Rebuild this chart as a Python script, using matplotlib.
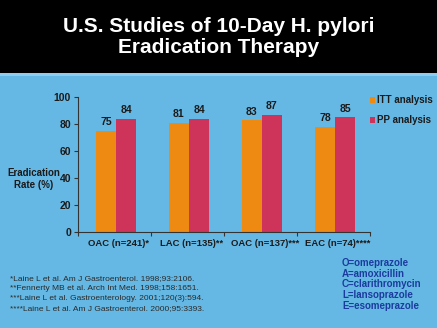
import matplotlib
matplotlib.use("Agg")
import matplotlib.pyplot as plt
from matplotlib.patches import Rectangle
import numpy as np

categories = ["OAC (n=241)*", "LAC (n=135)**", "OAC (n=137)***", "EAC (n=74)****"]
itt = [75, 81, 83, 78]
pp = [84, 84, 87, 85]
series_names = ["ITT analysis", "PP analysis"]
yticks = [0, 20, 40, 60, 80, 100]
title = "U.S. Studies of 10-Day H. pylori\nEradication Therapy"
ylabel = "Eradication\nRate (%)"
footnotes = ["*Laine L et al. Am J Gastroenterol. 1998;93:2106.",
             "**Fennerty MB et al. Arch Int Med. 1998;158:1651.",
             "***Laine L et al. Gastroenterology. 2001;120(3):594.",
             "****Laine L et al. Am J Gastroenterol. 2000;95:3393."]
abbrevs = ["O=omeprazole", "A=amoxicillin", "C=clarithromycin",
           "L=lansoprazole", "E=esomeprazole"]

plt.rcParams['font.family'] = ['Liberation Sans', 'DejaVu Sans']

W, H = 437, 328
fig = plt.figure(figsize=(W / 100, H / 100), dpi=100)
bg = "#66B8E4"
fig.patch.set_facecolor(bg)

# header
fig.add_artist(Rectangle((0, 1 - 73 / H), 1, 73 / H, transform=fig.transFigure,
                         facecolor="black", edgecolor="none", zorder=0))
fig.add_artist(Rectangle((0, 1 - 76 / H), 1, 3 / H, transform=fig.transFigure,
                         facecolor="#8FCDF0", edgecolor="none", zorder=0))
fig.text(0.5, 1 - 37 / H, title, color="white", fontsize=15, fontweight="bold",
         ha="center", va="center", linespacing=1.1)

ax = fig.add_axes([78 / W, 1 - 232 / H, 292 / W, 135 / H])
ax.set_facecolor("none")
orange = "#EE8A12"
pink = "#CE3459"
x = np.arange(len(categories)) + 0.52
w = 0.275
b1 = ax.bar(x - w / 2, itt, w, color=orange, label=series_names[0])
b2 = ax.bar(x + w / 2, pp, w, color=pink, label=series_names[1])
for rect, v in zip(list(b1) + list(b2), itt + pp):
    ax.text(rect.get_x() + rect.get_width() / 2, v + 2.5, str(v), ha="center",
            va="bottom", fontsize=7.5, fontweight="bold", color="#1a1a1a")

ax.set_xlim(0, 4)
ax.set_ylim(0, 100)
ax.set_yticks(yticks)
ax.set_yticklabels([str(t) for t in yticks], fontsize=7.5, fontweight="bold", color="#1a1a1a")
ax.set_xticks(np.arange(5))
ax.set_xticklabels([])
ax.set_xticks(np.arange(4) + 0.56, minor=True)
ax.set_xticklabels(categories, minor=True, fontsize=6.8, fontweight="bold", color="#1a1a1a")
ax.tick_params(axis="x", which="minor", length=0, pad=5)
ax.tick_params(axis="x", which="major", length=3, color="#333333", width=0.8)
ax.tick_params(axis="y", length=3, color="#333333", width=0.8, pad=2)
for s in ["top", "right"]:
    ax.spines[s].set_visible(False)
for s in ["left", "bottom"]:
    ax.spines[s].set_color("#333333")
    ax.spines[s].set_linewidth(0.8)

fig.text(34 / W, 1 - 179 / H, ylabel, ha="center", va="center", fontsize=7,
         fontweight="bold", color="#1a1a1a", linespacing=1.25)

leg = ax.legend(loc="upper left", bbox_to_anchor=(0.985, 1.04), frameon=False,
                fontsize=7, handlelength=0.55, handleheight=0.55, handletextpad=0.25,
                labelspacing=1.0, borderaxespad=0)
for t in leg.get_texts():
    t.set_fontweight("bold")
    t.set_color("#1a1a1a")

for i, line in enumerate(footnotes):
    fig.text(10 / W, 1 - (279 + i * 10) / H, line, ha="left", va="center",
             fontsize=6, color="#2a2a2a")
for i, line in enumerate(abbrevs):
    fig.text(342 / W, 1 - (263 + i * 10.7) / H, line, ha="left", va="center",
             fontsize=7, fontweight="bold", color="#1B3C9E")

fig.savefig("out.png", dpi=100, facecolor=fig.get_facecolor())
